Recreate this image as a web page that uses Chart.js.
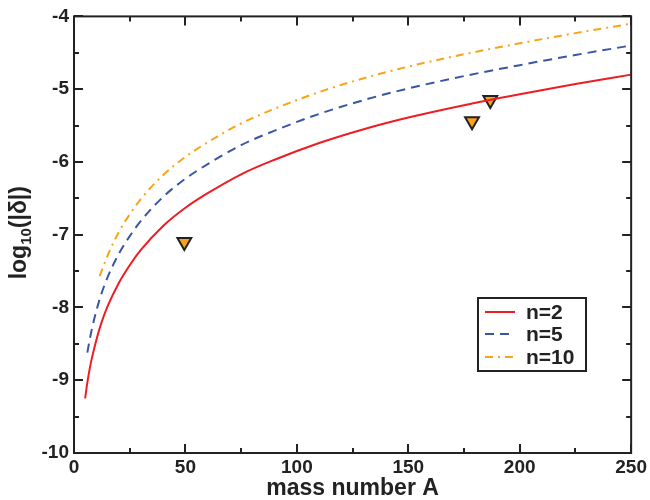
<!DOCTYPE html>
<html><head><meta charset="utf-8">
<script src="https://cdn.jsdelivr.net/npm/chart.js@4/dist/chart.umd.min.js"></script>
<style>html,body{margin:0;padding:0;background:#fff}#wrap{width:650px;height:500px}</style>
</head><body><div id="wrap"><canvas id="c" width="650" height="500"></canvas></div>
<script>
// ---- data ----
const seriesLabels = ['n=2', 'n=5', 'n=10'];
const massN2 = [5, 6, 7, 8, 10, 12, 15, 20, 25, 30, 40, 50, 60, 75, 90, 110, 130, 150, 175, 200, 225, 250];
const logN2  = [-9.25, -9.03, -8.85, -8.70, -8.45, -8.24, -7.99, -7.67, -7.42, -7.21, -6.88, -6.63, -6.43, -6.17, -5.97, -5.74, -5.55, -5.39, -5.22, -5.07, -4.93, -4.80];
const massN5 = [6, 7, 8, 10, 12, 15, 20, 25, 30, 40, 50, 60, 75, 90, 110, 130, 150, 175, 200, 225, 250];
const logN5  = [-8.62, -8.45, -8.30, -8.05, -7.84, -7.59, -7.27, -7.02, -6.81, -6.48, -6.23, -6.03, -5.77, -5.57, -5.34, -5.15, -4.99, -4.82, -4.67, -4.53, -4.40];
const massN10 = [11.5, 13, 15, 20, 25, 30, 40, 50, 60, 75, 90, 110, 130, 150, 175, 200, 225, 250];
const logN10  = [-7.57, -7.45, -7.29, -6.97, -6.72, -6.51, -6.18, -5.93, -5.73, -5.47, -5.27, -5.04, -4.85, -4.69, -4.52, -4.37, -4.23, -4.10];
const massObs = [49.5, 178.6, 186.8];
const logObs  = [-7.10, -5.44, -5.15];
const xTickValues = [0, 50, 100, 150, 200, 250];
const yTickValues = [-10, -9, -8, -7, -6, -5, -4];

const toPts = (xs, ys) => xs.map((x, i) => ({x: x, y: ys[i]}));
const AXIS = '#222222';
const FONT = '"Liberation Sans", Arial, sans-serif';

const lineStyles = [
  {color: '#ee1d23', dash: []},
  {color: '#3a55a4', dash: [9, 6]},
  {color: '#f9a31a', dash: [8, 5, 2, 5]}
];

const framePlugin = {
  id: 'frameTicks',
  afterDraw(chart) {
    const {ctx, chartArea: a, scales: {x, y}} = chart;
    ctx.save();
    ctx.strokeStyle = AXIS;
    ctx.lineWidth = 2;
    ctx.setLineDash([]);
    ctx.strokeRect(a.left, a.top, a.right - a.left, a.bottom - a.top);
    ctx.beginPath();
    for (let v = x.min; v <= x.max + 1e-9; v += 25) {
      const px = Math.round(x.getPixelForValue(v));
      const len = (Math.abs(v % 50) < 1e-9) ? 9 : 5;
      ctx.moveTo(px, a.bottom); ctx.lineTo(px, a.bottom - len);
      ctx.moveTo(px, a.top); ctx.lineTo(px, a.top + len);
    }
    for (let v = y.min; v <= y.max + 1e-9; v += 0.5) {
      const py = Math.round(y.getPixelForValue(v));
      const len = (Math.abs(v - Math.round(v)) < 1e-9) ? 9 : 5;
      ctx.moveTo(a.left, py); ctx.lineTo(a.left + len, py);
      ctx.moveTo(a.right, py); ctx.lineTo(a.right - len, py);
    }
    ctx.stroke();

    // y-axis title with subscript
    const cy = (a.top + a.bottom) / 2 - 2;
    ctx.translate(26, cy);
    ctx.rotate(-Math.PI / 2);
    ctx.fillStyle = AXIS;
    ctx.textBaseline = 'alphabetic';
    const big = 'bold 23px ' + FONT;
    const small = 'bold 15px ' + FONT;
    ctx.font = big; const w1 = ctx.measureText('log').width; const w3 = ctx.measureText('(|δ|)').width;
    ctx.font = small; const w2 = ctx.measureText('10').width;
    let sx = -(w1 + w2 + w3) / 2;
    ctx.font = big; ctx.textAlign = 'left';
    ctx.fillText('log', sx, 0); sx += w1;
    ctx.font = small; ctx.fillText('10', sx, 5); sx += w2;
    ctx.font = big; ctx.fillText('(|δ|)', sx, 0);
    ctx.restore();

    // legend
    ctx.save();
    ctx.strokeStyle = AXIS; ctx.lineWidth = 2;
    ctx.fillStyle = '#fff';
    ctx.fillRect(478, 298, 108, 73);
    ctx.strokeRect(478, 298, 108, 73);
    const rows = [312, 334, 357];
    ctx.font = 'bold 21px ' + FONT;
    ctx.textBaseline = 'middle'; ctx.textAlign = 'left';
    for (let i = 0; i < 3; i++) {
      const ds = chart.data.datasets[i];
      ctx.strokeStyle = ds.borderColor;
      ctx.setLineDash(ds.borderDash || []);
      ctx.beginPath(); ctx.moveTo(485, rows[i]); ctx.lineTo(515, rows[i]); ctx.stroke();
      ctx.fillStyle = AXIS;
      ctx.fillText(ds.label, 526, rows[i] + 1);
    }
    ctx.restore();
  }
};

const lineDs = (label, xs, ys, st) => ({
  label: label, data: toPts(xs, ys), showLine: true,
  borderColor: st.color, borderDash: st.dash, borderWidth: 2,
  pointRadius: 0, pointHoverRadius: 0, fill: false,
  cubicInterpolationMode: 'monotone'
});

new Chart(document.getElementById('c'), {
  type: 'scatter',
  data: {
    datasets: [
      lineDs(seriesLabels[0], massN2, logN2, lineStyles[0]),
      lineDs(seriesLabels[1], massN5, logN5, lineStyles[1]),
      lineDs(seriesLabels[2], massN10, logN10, lineStyles[2]),
      {
        label: 'data', data: toPts(massObs, logObs), showLine: false,
        pointStyle: 'triangle', rotation: 180, pointRadius: 8, pointHoverRadius: 8,
        backgroundColor: '#f9a31a', borderColor: '#222222', borderWidth: 2
      }
    ]
  },
  plugins: [framePlugin],
  options: {
    responsive: false, animation: false, devicePixelRatio: 1,
    layout: {padding: {top: 12, right: 17, left: 0, bottom: 0}},
    plugins: {legend: {display: false}, tooltip: {enabled: false}},
    scales: {
      x: {
        type: 'linear', min: 0, max: 250,
        afterFit(s) { s.height = 47; },
        afterBuildTicks(s) { s.ticks = xTickValues.map(v => ({value: v})); },
        grid: {display: false, drawTicks: false},
        border: {display: false},
        ticks: {color: AXIS, padding: 3, font: {family: FONT, size: 19, weight: 'bold'}},
        title: {display: true, text: 'mass number A', color: AXIS, padding: {top: 0, bottom: 0},
                font: {family: FONT, size: 23, weight: 'bold', lineHeight: 1}}
      },
      y: {
        type: 'linear', min: -10, max: -4,
        afterFit(s) { s.width = 74; },
        afterBuildTicks(s) { s.ticks = yTickValues.map(v => ({value: v})); },
        grid: {display: false, drawTicks: false},
        border: {display: false},
        ticks: {color: AXIS, padding: 5, font: {family: FONT, size: 19, weight: 'bold'}}
      }
    }
  }
});
</script>
</body></html>
